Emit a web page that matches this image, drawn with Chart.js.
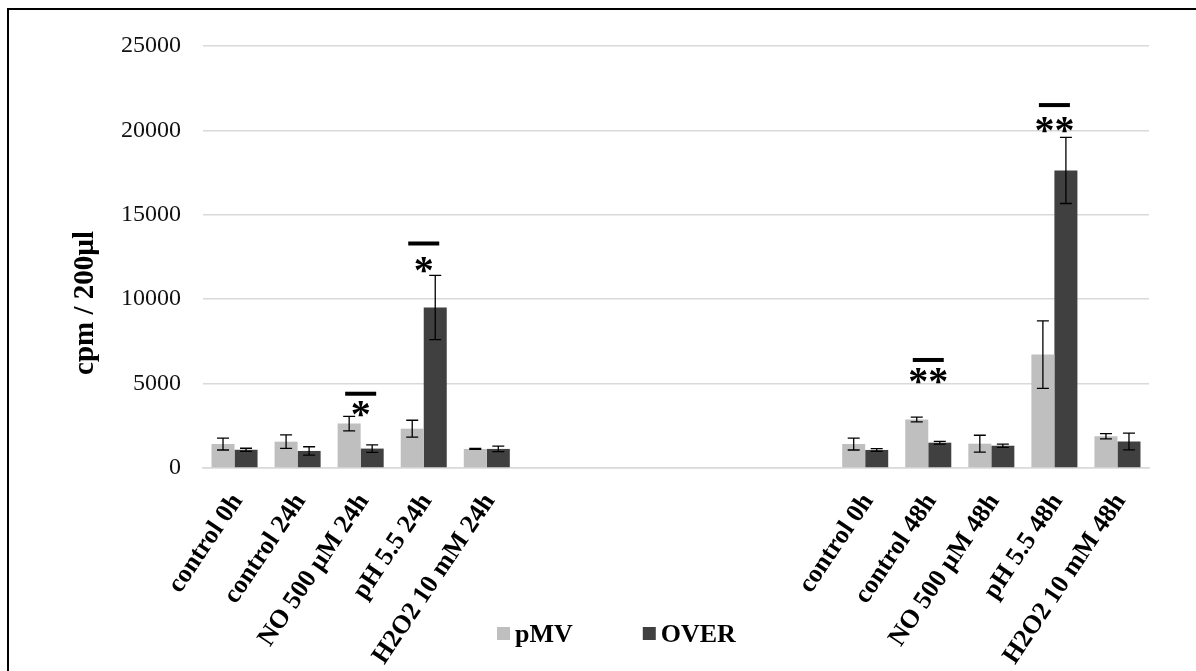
<!DOCTYPE html>
<html>
<head>
<meta charset="utf-8">
<script src="https://cdn.jsdelivr.net/npm/chart.js@4.4.1/dist/chart.umd.min.js"></script>
<style>
  body { margin: 0; background: #fff; }
  #wrap { position: relative; width: 1196px; height: 671px; }
  #frame { position: absolute; left: 7px; top: 8px; right: -4px; bottom: -4px; border-left: 2px solid #000; border-top: 2px solid #000; pointer-events: none; }
</style>
</head>
<body>
<div id="wrap">
  <canvas id="chart" width="1196" height="671"></canvas>
  <div id="frame"></div>
</div>
<script>
const categories = [
  'control 0h', 'control 24h', 'NO 500 µM 24h', 'pH 5.5 24h', 'H2O2 10 mM 24h',
  '', '', '', '', '',
  'control 0h', 'control 48h', 'NO 500 µM 48h', 'pH 5.5 48h', 'H2O2 10 mM 48h'
];
const pmvValues = [1420, 1560, 2630, 2330, 1130, null, null, null, null, null, 1420, 2870, 1440, 6720, 1880];
const pmvErrors = [355, 400, 430, 500, 30, null, null, null, null, null, 355, 140, 500, 2000, 160];
const overValues = [1080, 1010, 1150, 9510, 1130, null, null, null, null, null, 1070, 1500, 1320, 17630, 1570];
const overErrors = [90, 250, 220, 1900, 160, null, null, null, null, null, 80, 80, 100, 1960, 500];
const yTicks = [0, 5000, 10000, 15000, 20000, 25000];

// significance marks: category index, text, bar level, text level
const sigIndex = [2, 3, 11, 13];
const sigText = ['*', '*', '**', '**'];
const sigBarLevel = [4400, 13300, 6400, 21500];
const sigTextLevel = [3500, 12000, 5450, 20300];

const serif = '"Liberation Serif", "Times New Roman", serif';

/* ---------- error bars ---------- */
const errorBars = {
  id: 'errorBars',
  afterDatasetsDraw(chart) {
    const { ctx, scales: { y } } = chart;
    const errs = [pmvErrors, overErrors];
    ctx.save();
    ctx.strokeStyle = '#000';
    ctx.lineWidth = 1.3;
    chart.data.datasets.forEach((ds, i) => {
      chart.getDatasetMeta(i).data.forEach((bar, j) => {
        const v = ds.data[j], e = errs[i][j];
        if (v == null || !e) return;
        const top = y.getPixelForValue(v + e);
        const bot = y.getPixelForValue(v - e);
        ctx.beginPath();
        ctx.moveTo(bar.x, top); ctx.lineTo(bar.x, bot);
        ctx.moveTo(bar.x - 6, top); ctx.lineTo(bar.x + 6, top);
        ctx.moveTo(bar.x - 6, bot); ctx.lineTo(bar.x + 6, bot);
        ctx.stroke();
      });
    });
    ctx.restore();
  }
};

/* ---------- stars, y title, legend ---------- */
const extras = {
  id: 'extras',
  afterDraw(chart) {
    const { ctx, scales: { x, y } } = chart;
    ctx.save();
    ctx.fillStyle = '#000';
    sigIndex.forEach((k, n) => {
      const cx = x.getPixelForValue(k);
      ctx.fillRect(cx - 15.5, y.getPixelForValue(sigBarLevel[n]) - 2, 31, 4);
      ctx.font = 'bold 40px ' + serif;
      ctx.textAlign = 'center';
      ctx.textBaseline = 'alphabetic';
      const m = ctx.measureText(sigText[n]);
      const yc = y.getPixelForValue(sigTextLevel[n]);
      ctx.fillText(sigText[n], cx, yc + (m.actualBoundingBoxAscent - m.actualBoundingBoxDescent) / 2);
    });

    // y axis title
    ctx.save();
    ctx.translate(86, 303);
    ctx.rotate(-Math.PI / 2);
    ctx.font = 'bold 29px ' + serif;
    ctx.textAlign = 'center';
    ctx.textBaseline = 'middle';
    ctx.fillText('cpm / 200µl', 0, 0);
    ctx.restore();

    // legend
    let lx = 497;
    ctx.font = 'bold 26px ' + serif;
    ctx.textAlign = 'left';
    ctx.textBaseline = 'alphabetic';
    chart.data.datasets.forEach(ds => {
      ctx.fillStyle = ds.backgroundColor;
      ctx.fillRect(lx, 627, 13, 13);
      ctx.fillStyle = '#000';
      ctx.fillText(ds.label, lx + 18, 642);
      lx += 18 + ctx.measureText(ds.label).width + 70;
    });
    ctx.restore();
  }
};

new Chart(document.getElementById('chart'), {
  type: 'bar',
  data: {
    labels: categories,
    datasets: [
      { label: 'pMV', data: pmvValues, backgroundColor: '#bfbfbf' },
      { label: 'OVER', data: overValues, backgroundColor: '#404040' }
    ]
  },
  options: {
    responsive: false,
    animation: false,
    events: [],
    layout: { padding: { left: 0, right: 47, top: 46, bottom: 0 } },
    datasets: { bar: { categoryPercentage: 0.73, barPercentage: 1 } },
    plugins: { legend: { display: false }, tooltip: { enabled: false } },
    scales: {
      x: {
        grid: { display: false, drawTicks: false },
        border: { display: true, color: '#d9d9d9', width: 1.5 },
        ticks: {
          autoSkip: false, maxRotation: 56, minRotation: 56, padding: 20, labelOffset: 3,
          color: '#000', font: { family: serif, size: 26, weight: 'bold' }
        },
        afterFit: (s) => { s.height = 203; }
      },
      y: {
        min: 0, max: 25000,
        grid: { color: '#d9d9d9', lineWidth: 1.5, drawTicks: false },
        border: { display: false },
        ticks: {
          stepSize: 5000, padding: 22, color: '#111',
          font: { family: serif, size: 24 },
          callback: (v) => yTicks.includes(v) ? String(v) : ''
        },
        afterFit: (s) => { s.width = 203; }
      }
    }
  },
  plugins: [errorBars, extras]
});
</script>
</body>
</html>
